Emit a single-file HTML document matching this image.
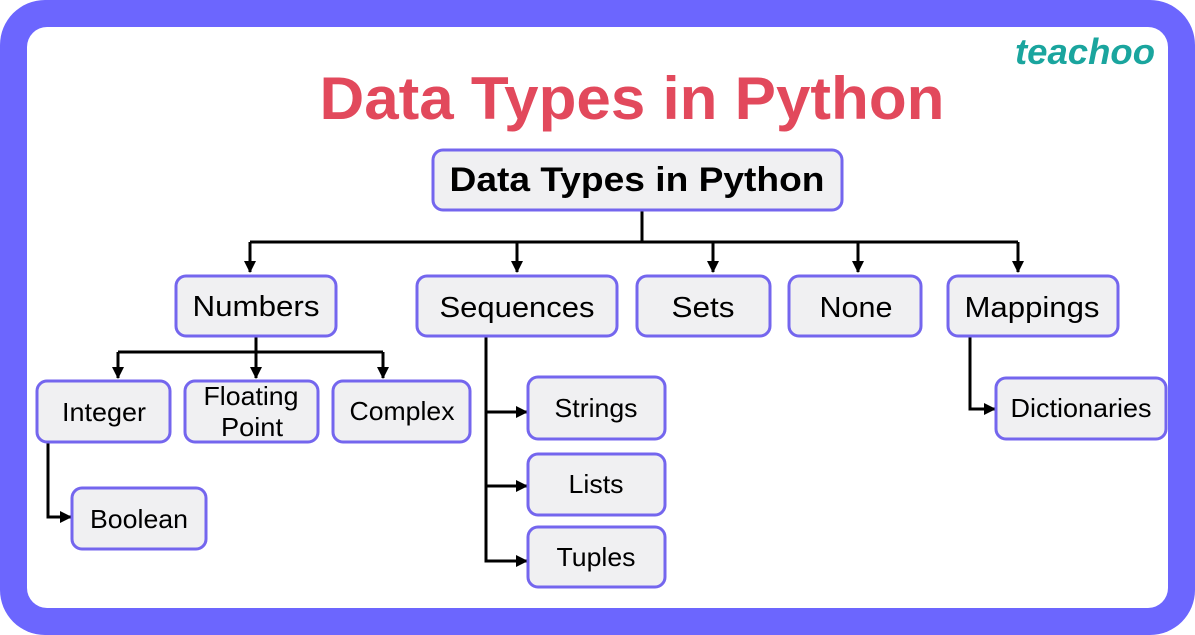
<!DOCTYPE html>
<html><head><meta charset="utf-8"><style>
html,body{margin:0;padding:0;background:#fff;}
svg{display:block;}
text{font-family:"Liberation Sans",sans-serif;}
</style></head><body>
<svg width="1195" height="635" viewBox="0 0 1195 635" xmlns="http://www.w3.org/2000/svg">
<defs>
<marker id="a" markerWidth="12" markerHeight="12" refX="11" refY="6" orient="auto" markerUnits="userSpaceOnUse">
<path d="M0,0 L12,6 L0,12 z" fill="#000"/></marker>
</defs>
<rect x="0" y="0" width="1195" height="635" rx="45" fill="#6c66fe"/>
<rect x="27" y="27" width="1141" height="581" rx="20" fill="#fff"/>
<text x="1085" y="64" text-anchor="middle" font-family="Liberation Serif,serif" font-style="italic" font-weight="bold" font-size="36" fill="#1aa59e" textLength="140" lengthAdjust="spacingAndGlyphs">teachoo</text>
<text x="632" y="119" text-anchor="middle" font-weight="bold" font-size="60" fill="#e2495c" textLength="625" lengthAdjust="spacingAndGlyphs">Data Types in Python</text>
<g fill="none" stroke="#000" stroke-width="3">
<path d="M642,210 V242 M250,242 H1018"/>
<path d="M250,242 V272" marker-end="url(#a)"/>
<path d="M517,242 V272" marker-end="url(#a)"/>
<path d="M713,242 V272" marker-end="url(#a)"/>
<path d="M858,242 V272" marker-end="url(#a)"/>
<path d="M1018,242 V272" marker-end="url(#a)"/>
<path d="M256,336 V352 M118,352 H383"/>
<path d="M118,352 V378" marker-end="url(#a)"/>
<path d="M256,352 V378" marker-end="url(#a)"/>
<path d="M383,352 V378" marker-end="url(#a)"/>
<path d="M48,442 V517 H71" marker-end="url(#a)"/>
<path d="M486,336 V561 H527" marker-end="url(#a)"/>
<path d="M486,412 H527" marker-end="url(#a)"/>
<path d="M486,486 H527" marker-end="url(#a)"/>
<path d="M970,336 V409 H995" marker-end="url(#a)"/>
</g>
<g fill="#f0f0f2" stroke="#7466ee" stroke-width="3">
<rect x="433" y="150" width="409" height="60" rx="10"/>
<rect x="176" y="276" width="160" height="60" rx="10"/>
<rect x="417" y="276" width="200" height="60" rx="10"/>
<rect x="637" y="276" width="133" height="60" rx="10"/>
<rect x="789" y="276" width="132" height="60" rx="10"/>
<rect x="948" y="276" width="170" height="60" rx="10"/>
<rect x="37" y="381" width="133" height="61" rx="10"/>
<rect x="185" y="381" width="133" height="61" rx="10"/>
<rect x="333" y="381" width="137" height="61" rx="10"/>
<rect x="72" y="488" width="134" height="61" rx="10"/>
<rect x="528" y="377" width="137" height="62" rx="10"/>
<rect x="528" y="454" width="137" height="61" rx="10"/>
<rect x="528" y="527" width="137" height="60" rx="10"/>
<rect x="996" y="378" width="170" height="61" rx="10"/>
</g>
<g text-anchor="middle" fill="#000" lengthAdjust="spacingAndGlyphs">
<text x="637" y="191" font-weight="bold" font-size="34" textLength="375" lengthAdjust="spacingAndGlyphs">Data Types in Python</text>
<g font-size="29">
<text x="256" y="316" textLength="127" lengthAdjust="spacingAndGlyphs">Numbers</text>
<text x="517" y="317" textLength="155" lengthAdjust="spacingAndGlyphs">Sequences</text>
<text x="703" y="317" textLength="63" lengthAdjust="spacingAndGlyphs">Sets</text>
<text x="856" y="317" textLength="73" lengthAdjust="spacingAndGlyphs">None</text>
<text x="1032" y="317" textLength="135" lengthAdjust="spacingAndGlyphs">Mappings</text>
</g>
<g font-size="26">
<text x="104" y="421" textLength="84" lengthAdjust="spacingAndGlyphs">Integer</text>
<text x="251" y="405" textLength="95" lengthAdjust="spacingAndGlyphs">Floating</text>
<text x="252" y="436" textLength="62" lengthAdjust="spacingAndGlyphs">Point</text>
<text x="402" y="420" textLength="105" lengthAdjust="spacingAndGlyphs">Complex</text>
<text x="139" y="528" textLength="98" lengthAdjust="spacingAndGlyphs">Boolean</text>
<text x="596" y="417" textLength="83" lengthAdjust="spacingAndGlyphs">Strings</text>
<text x="596" y="493" textLength="55" lengthAdjust="spacingAndGlyphs">Lists</text>
<text x="596" y="566" textLength="79" lengthAdjust="spacingAndGlyphs">Tuples</text>
<text x="1081" y="417" textLength="141" lengthAdjust="spacingAndGlyphs">Dictionaries</text>
</g>
</g>
</svg>
</body></html>
